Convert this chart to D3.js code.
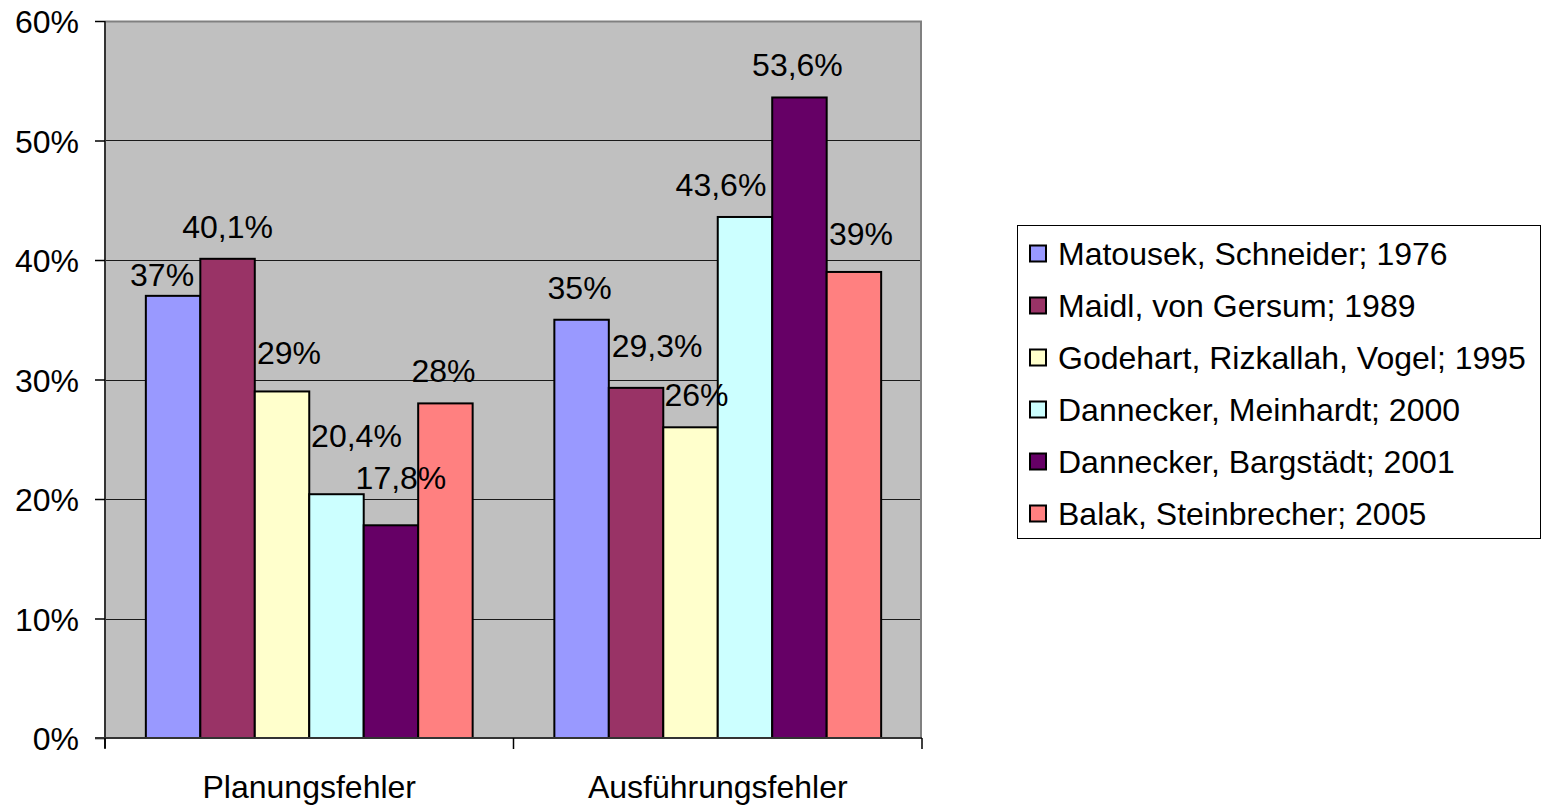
<!DOCTYPE html>
<html>
<head>
<meta charset="utf-8">
<script src="https://cdn.jsdelivr.net/npm/d3@7"></script>
<style>
  html, body { margin: 0; padding: 0; background: #fff; }
  svg text { font-family: "Liberation Sans", Arial, sans-serif; fill: #000; }
</style>
</head>
<body>
<svg id="chart" width="1546" height="805"></svg>
<script>
// Categories (x axis groups)
const categories = ["Planungsfehler", "Ausführungsfehler"];

// Studies (one bar per study in each group)
const studies = [
  "Matousek, Schneider; 1976",
  "Maidl, von Gersum; 1989",
  "Godehart, Rizkallah, Vogel; 1995",
  "Dannecker, Meinhardt; 2000",
  "Dannecker, Bargstädt; 2001",
  "Balak, Steinbrecher; 2005"
];

// Percent values per study, for each category
const planungsfehler     = [37, 40.1, 29, 20.4, 17.8, 28];
const ausfuehrungsfehler = [35, 29.3, 26, 43.6, 53.6, 39];

// Y-axis tick values (percent)
const yTicks = [0, 10, 20, 30, 40, 50, 60];

// Bar fill colours per study
const colors = ["#9999FF", "#993366", "#FFFFCC", "#CCFFFF", "#660066", "#FF8080"];

// Hand-placed data label nudges [dx, dy] in px, per category then study
const labelNudge = [
  [[-11, 11], [0, 0], [7, -6], [20, -26], [10, -15], [-2, 0]],
  [[-2, 0], [21, -10], [6, 0], [-24, 0], [-2, 0], [7, -6]]
];

const seriesByCategory = [planungsfehler, ausfuehrungsfehler];

const svg = d3.select("#chart");
const plot = { left: 105, right: 922, top: 21, bottom: 738 };
const FONT = 32;

const x0 = d3.scaleBand().domain(categories).range([plot.left, plot.right]).padding(0);
// Gap width of 150% between groups: each band holds 7.5 bar widths
const barW = x0.bandwidth() / 7.5;
const x1 = d3.scaleBand().domain(d3.range(studies.length))
  .range([barW * 0.75, x0.bandwidth() - barW * 0.75]).padding(0);

const y = d3.scaleLinear().domain([0, 60]).range([plot.bottom, plot.top]);

// Plot background
svg.append("rect")
  .attr("x", plot.left).attr("y", plot.top)
  .attr("width", plot.right - plot.left).attr("height", plot.bottom - plot.top)
  .attr("fill", "#C0C0C0");

// Gridlines
svg.append("g").selectAll("line").data(yTicks.filter(t => t > 0 && t < 60)).join("line")
  .attr("x1", plot.left).attr("x2", plot.right)
  .attr("y1", d => Math.round(y(d)) + 0.5).attr("y2", d => Math.round(y(d)) + 0.5)
  .attr("stroke", "#1a1a1a").attr("stroke-width", 1.2);

// Plot border (top and right) in grey
svg.append("path")
  .attr("d", `M${plot.left},${plot.top + 0.5}H${plot.right - 1}V${plot.bottom}`)
  .attr("fill", "none").attr("stroke", "#808080").attr("stroke-width", 2);

// Bars
const groups = svg.append("g").selectAll("g").data(categories).join("g")
  .attr("transform", d => `translate(${x0(d)},0)`);

groups.each(function(cat, ci) {
  const g = d3.select(this);
  const vals = seriesByCategory[ci];
  g.selectAll("rect").data(vals).join("rect")
    .attr("x", (d, i) => x1(i))
    .attr("y", d => y(d))
    .attr("width", x1.bandwidth())
    .attr("height", d => plot.bottom - y(d))
    .attr("fill", (d, i) => colors[i])
    .attr("stroke", "#000").attr("stroke-width", 2);
});

// Data labels
groups.each(function(cat, ci) {
  const g = d3.select(this);
  const vals = seriesByCategory[ci];
  g.selectAll("text").data(vals).join("text")
    .attr("x", (d, i) => x1(i) + x1.bandwidth() / 2 + labelNudge[ci][i][0])
    .attr("y", (d, i) => y(d) - 21 + labelNudge[ci][i][1])
    .attr("text-anchor", "middle")
    .attr("font-size", FONT)
    .text(d => d3.format(".1~f")(d).replace(".", ",") + "%");
});

// Y axis
const yAxis = d3.axisLeft(y).tickValues(yTicks).tickSize(10).tickPadding(16)
  .tickFormat(d => d + "%");
const ya = svg.append("g").attr("transform", `translate(${plot.left},0)`).call(yAxis);
ya.select(".domain").attr("stroke", "#333").attr("stroke-width", 2)
  .attr("d", `M0,${plot.top}V${plot.bottom + 10}`);
ya.selectAll(".tick line").attr("stroke", "#000").attr("stroke-width", 1.5);
ya.selectAll(".tick text").attr("font-size", FONT).attr("font-family", "Liberation Sans, Arial, sans-serif")
  .attr("dy", "0.36em").attr("fill", "#000");

// X axis
const xAxis = d3.axisBottom(x0).tickSize(0).tickPadding(0);
const xa = svg.append("g").attr("transform", `translate(0,${plot.bottom})`).call(xAxis);
xa.select(".domain").attr("stroke", "#333").attr("stroke-width", 2)
  .attr("d", `M${plot.left - 10},0H${plot.right}`);
xa.selectAll(".tick text").attr("font-size", FONT).attr("font-family", "Liberation Sans, Arial, sans-serif")
  .attr("fill", "#000").attr("dy", 0).attr("y", 60);
// Category separator ticks at band edges
svg.append("g").selectAll("line")
  .data([plot.left, x0(categories[1]), plot.right]).join("line")
  .attr("x1", d => d).attr("x2", d => d)
  .attr("y1", plot.bottom).attr("y2", plot.bottom + 11)
  .attr("stroke", "#000").attr("stroke-width", 1.5);

// Legend
const legend = svg.append("g").attr("transform", "translate(1017,225)");
legend.append("rect")
  .attr("x", 0.5).attr("y", 0.5).attr("width", 523).attr("height", 313)
  .attr("fill", "#fff").attr("stroke", "#000").attr("stroke-width", 1);
const items = legend.selectAll("g.item").data(studies).join("g")
  .attr("class", "item")
  .attr("transform", (d, i) => `translate(12,${28.5 + i * 52})`);
items.append("rect")
  .attr("x", 1).attr("y", -8).attr("width", 16).attr("height", 16)
  .attr("fill", (d, i) => colors[i]).attr("stroke", "#000").attr("stroke-width", 2);
items.append("text")
  .attr("x", 29).attr("y", 11)
  .attr("font-size", FONT)
  .text(d => d);
</script>
</body>
</html>
